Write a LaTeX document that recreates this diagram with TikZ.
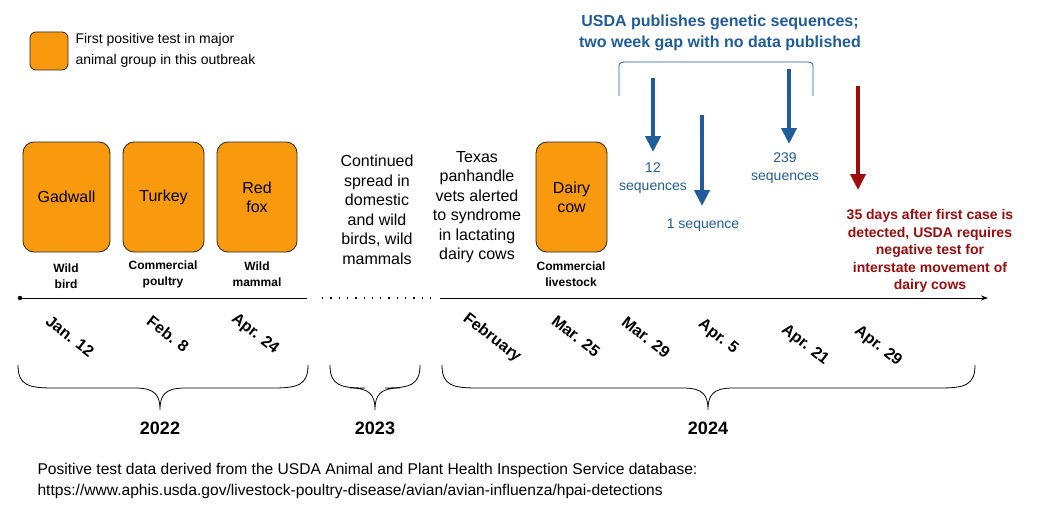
\documentclass[tikz,border=0pt]{standalone}
\usepackage{fontspec}
\setmainfont{Liberation Sans}
\usetikzlibrary{arrows.meta}
\definecolor{org}{HTML}{F99A0E}
\definecolor{bl}{HTML}{1F5C99}
\definecolor{rd}{HTML}{9C0C0C}
\begin{document}
\begin{tikzpicture}[x=1pt,y=-1pt,
  evbox/.style={draw=black!85,fill=org,rounded corners=11pt,line width=0.8pt,inner sep=0pt,font=\fontsize{16}{19}\selectfont,align=center},
  sub/.style={font=\bfseries\fontsize{12}{16}\selectfont,align=center},
  date/.style={font=\bfseries\fontsize{16}{18}\selectfont,rotate=-38},
  para/.style={font=\fontsize{16}{19.5}\selectfont,align=center},
  yr/.style={font=\bfseries\fontsize{18}{20}\selectfont},
  seq/.style={text=bl,font=\fontsize{14}{18}\selectfont,align=center},
  barr/.style={-{Triangle[width=15pt,length=16pt]},line width=4pt,draw=bl},
  brc/.style={line width=0.8pt}]
\useasboundingbox (0,0) rectangle (1047,527);
% legend
\node[evbox,minimum width=38pt,minimum height=38pt,rounded corners=6pt] (leg) at (49,51) {};
\node[anchor=west,align=left,font=\fontsize{14}{21}\selectfont] (legt) at (72,50) {First positive test in major\\animal group in this outbreak};
% boxes
\node[evbox,minimum width=87pt,minimum height=110pt] (gad) at (66.5,197) {Gadwall};
\node[evbox,minimum width=81pt,minimum height=110pt] (tur) at (163.5,197) {Turkey};
\node[evbox,minimum width=80pt,minimum height=110pt] (fox) at (257,197) {Red\\fox};
\node[evbox,minimum width=71pt,minimum height=110pt] (cow) at (571.5,197) {Dairy\\cow};
\node[sub] at (66,276) {Wild\\bird};
\node[sub] at (163,274) {Commercial\\poultry};
\node[sub] at (257,274) {Wild\\mammal};
\node[sub] at (571,274) {Commercial\\livestock};
\node[para] (cont) at (377,210) {Continued\\spread in\\domestic\\and wild\\birds, wild\\mammals};
\node[para] (tex) at (477,207) {Texas\\panhandle\\vets alerted\\to syndrome\\in lactating\\dairy cows};
% timeline
\coordinate (t0) at (20,298); \coordinate (t1) at (307,298);
\coordinate (d0) at (322,298); \coordinate (d1) at (430,298);
\coordinate (t2) at (440,298); \coordinate (t3) at (988,298);
\fill (t0) circle (2.2pt);
\draw[line width=1pt] (t0) -- (t1);
\draw[line width=1.3pt,dash pattern=on 1.3pt off 7pt] (d0) -- (d1);
\draw[line width=1pt,-{Stealth[length=7pt,width=5pt]}] (t2) -- (t3);
% dates
\node[date] at (70,336) {Jan. 12};
\node[date] at (168,334) {Feb. 8};
\node[date] at (255,334) {Apr. 24};
\node[date] at (492,338) {February};
\node[date] at (576,336) {Mar. 25};
\node[date] at (646,337) {Mar. 29};
\node[date] at (718,337) {Apr. 5};
\node[date] at (805,345) {Apr. 21};
\node[date] at (878,346) {Apr. 29};
% braces
\foreach \a/\m/\b/\n/\y in {18/160/308/y22/2022, 330/375/420/y23/2023, 442/708/975/y24/2024}{
  \draw[brc] (\a,365) .. controls (\a,385) and (\a+10,388) .. (\a+35,388) -- (\m-25,388) .. controls (\m-5,388) and (\m,395) .. (\m,410)
     .. controls (\m,395) and (\m+5,388) .. (\m+25,388) -- (\b-35,388) .. controls (\b-10,388) and (\b,385) .. (\b,365);
  \node[yr] (\n) at (\m,428) {\y};
}
% USDA
\node[text=bl,font=\bfseries\fontsize{16}{21}\selectfont,align=center] (usda) at (720,33) {USDA publishes genetic sequences;\\two week gap with no data published};
\draw[bl,line width=0.8pt] (619,96) -- (619,68) .. controls (619,63) .. (624,62) -- (808,62) .. controls (813,63) .. (813,68) -- (813,96);
\coordinate (a1s) at (653,78); \coordinate (a1e) at (653,152);
\coordinate (a2s) at (702,115); \coordinate (a2e) at (702,206);
\coordinate (a3s) at (789,69); \coordinate (a3e) at (789,144);
\draw[barr] (a1s) -- (a1e);
\draw[barr] (a2s) -- (a2e);
\draw[barr] (a3s) -- (a3e);
\node[seq] (s12) at (653,178) {12\\sequences};
\node[seq] (s1) at (703,225) {1 sequence};
\node[seq] (s239) at (785,168) {239\\sequences};
\coordinate (r1s) at (858,86); \coordinate (r1e) at (858,190);
\draw[-{Triangle[width=15pt,length=16pt]},line width=4pt,draw=rd] (r1s) -- (r1e);
\node[text=rd,font=\bfseries\fontsize{14}{17.5}\selectfont,align=center] (red) at (930,251) {35 days after first case is\\detected, USDA requires\\negative test for\\interstate movement of\\dairy cows};
% footer
\node[anchor=west,align=left,font=\fontsize{15.6}{21}\selectfont] (foot) at (34,481) {Positive test data derived from the USDA Animal and Plant Health Inspection Service database:\\https://www.aphis.usda.gov/livestock-poultry-disease/avian/avian-influenza/hpai-detections};
\end{tikzpicture}
\end{document}
